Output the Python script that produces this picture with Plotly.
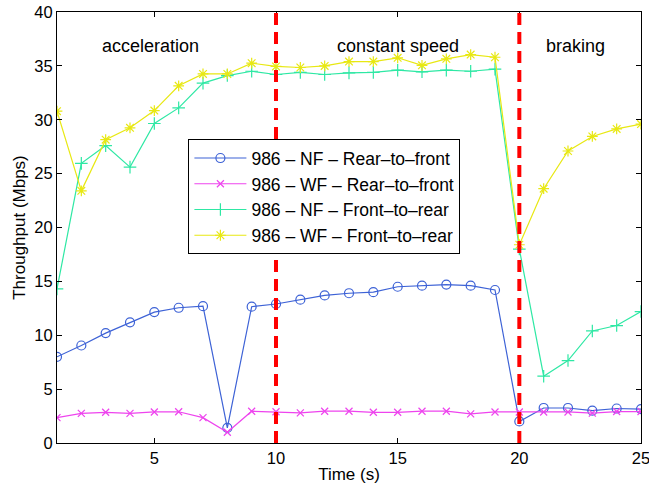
import plotly.graph_objects as go

time_s = list(range(1, 26))
nf_rear_to_front = [8.0, 9.05, 10.2, 11.2, 12.15, 12.55, 12.7, 1.4, 12.65, 12.9,
                    13.3, 13.7, 13.9, 14.0, 14.5, 14.6, 14.7, 14.6, 14.2, 2.0,
                    3.25, 3.25, 3.0, 3.2, 3.15]
wf_rear_to_front = [2.35, 2.75, 2.85, 2.75, 2.88, 2.9, 2.35, 1.0, 2.95, 2.9,
                    2.8, 2.95, 2.95, 2.85, 2.85, 2.95, 2.95, 2.7, 2.88, 2.88,
                    2.88, 2.88, 2.78, 2.92, 2.92]
nf_front_to_rear = [14.3, 25.95, 27.6, 25.6, 29.65, 31.1, 33.4, 34.1, 34.5, 34.2,
                    34.4, 34.2, 34.35, 34.4, 34.6, 34.45, 34.6, 34.5, 34.7, 18.0,
                    6.2, 7.65, 10.4, 10.9, 12.2]
wf_front_to_rear = [30.8, 23.4, 28.15, 29.25, 30.85, 33.15, 34.25, 34.25, 35.25, 34.95,
                    34.85, 35.0, 35.4, 35.4, 35.75, 35.05, 35.65, 36.05, 35.8, 18.4,
                    23.6, 27.1, 28.45, 29.15, 29.6]

series_names = ["986 \u2013 NF \u2013 Rear\u2013to\u2013front",
                "986 \u2013 WF \u2013 Rear\u2013to\u2013front",
                "986 \u2013 NF \u2013 Front\u2013to\u2013rear",
                "986 \u2013 WF \u2013 Front\u2013to\u2013rear"]
phase_bounds = [10, 20]
phase_labels = ["acceleration", "constant speed", "braking"]
phase_label_x = [4.85, 15.0, 22.3]
phase_label_y = 36.8

colors = ["#3d62d6", "#ee44ee", "#2ee8a4", "#e8e812"]
symbols = ["circle-open", "x-thin-open", "cross-thin-open", "asterisk-open"]
sizes = [9, 7, 9, 9]
values = [nf_rear_to_front, wf_rear_to_front, nf_front_to_rear, wf_front_to_rear]

fig = go.Figure()
for name, ys, c, s, sz in zip(series_names, values, colors, symbols, sizes):
    fig.add_trace(go.Scatter(
        x=time_s, y=ys, name=name, mode="lines+markers",
        line=dict(color=c, width=1.2),
        marker=dict(symbol=s, size=sz, color=c, line=dict(color=c, width=1.2)),
    ))

for xb in phase_bounds:
    fig.add_shape(type="line", x0=xb, x1=xb, y0=0, y1=40, xref="x", yref="y",
                  line=dict(color="#ff0000", width=4, dash="12px,7px"), layer="above")

for lbl, lx in zip(phase_labels, phase_label_x):
    fig.add_annotation(x=lx, y=phase_label_y, text=lbl, showarrow=False,
                       font=dict(size=18, color="black"))

axis_common = dict(showgrid=False, zeroline=False, showline=True, linecolor="black",
                   linewidth=1, mirror="allticks", ticks="inside", ticklen=5,
                   tickcolor="black", tickfont=dict(size=16.5, color="black"),
                   automargin=False, ticklabeloverflow="allow")

fig.update_layout(
    width=649, height=490,
    margin=dict(l=57, r=8, t=12, b=47),
    paper_bgcolor="white", plot_bgcolor="white",
    font=dict(family="Liberation Sans, Arial, sans-serif", color="black"),
    xaxis=dict(range=[1, 25], tickvals=[5, 10, 15, 20, 25],
               title=dict(text="Time (s)", font=dict(size=17), standoff=2), **axis_common),
    yaxis=dict(range=[0, 40], tickvals=[0, 5, 10, 15, 20, 25, 30, 35, 40],
               title=dict(text="Throughput (Mbps)", font=dict(size=17), standoff=4), **axis_common),
    legend=dict(x=0.225, y=0.705, xanchor="left", yanchor="top",
                bgcolor="white", bordercolor="black", borderwidth=1,
                font=dict(size=17.5, color="black"), tracegroupgap=0,
                itemwidth=52),
    showlegend=True,
)

fig.write_html("out.html")
